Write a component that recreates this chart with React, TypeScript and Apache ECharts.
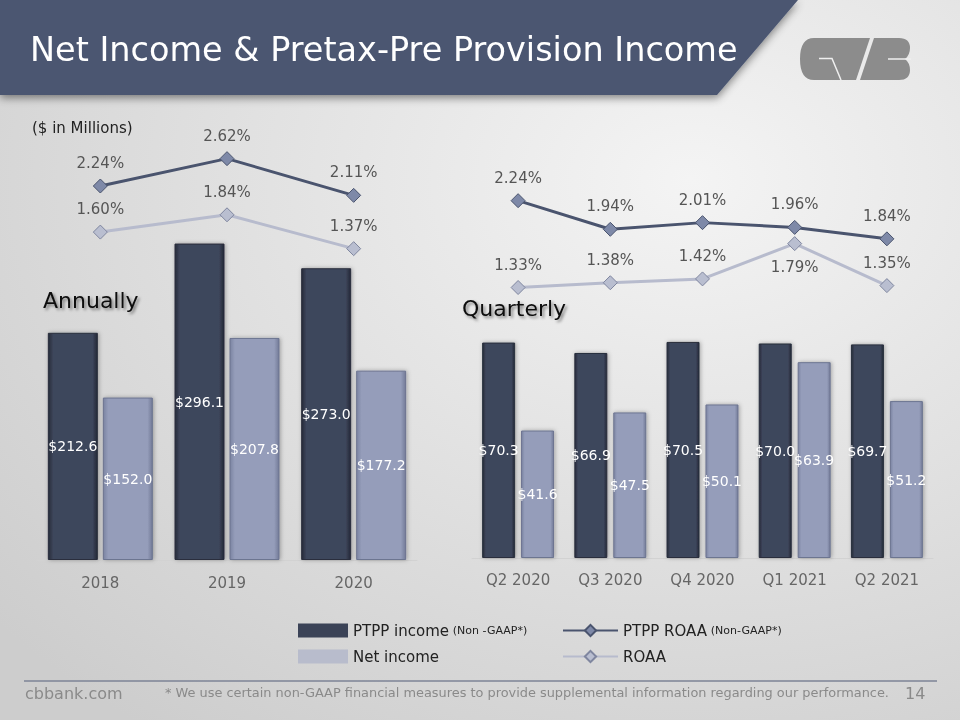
import React, { useEffect, useRef } from "react";
import * as echarts from "echarts";

// ---- data ----
const years = ["2018", "2019", "2020"];
const annualPTPP = [212.6, 296.1, 273.0];
const annualNet = [152.0, 207.8, 177.2];
const annualPTPPROAA = [2.24, 2.62, 2.11];
const annualROAA = [1.6, 1.84, 1.37];

const quarters = ["Q2 2020", "Q3 2020", "Q4 2020", "Q1 2021", "Q2 2021"];
const qPTPP = [70.3, 66.9, 70.5, 70.0, 69.7];
const qNet = [41.6, 47.5, 50.1, 63.9, 51.2];
const qPTPPROAA = [2.24, 1.94, 2.01, 1.96, 1.84];
const qROAA = [1.33, 1.38, 1.42, 1.79, 1.35];
const qROAABelow = ["Q1 2021"];

const seriesNames = ["PTPP income", "Net income", "PTPP ROAA", "ROAA"];
const title = "Net Income & Pretax-Pre Provision Income";
const footnote =
  "* We use certain non-GAAP financial measures to provide supplemental information regarding our performance.";

const FONT = "DejaVu Sans";

const logoPath =
  "M14 0 L70 0 L56 42 L14 42 Q0 42 0 21 Q0 0 14 0 Z M74 0 L99 0 Q110 0 110 10 Q110 17 105 21 Q110 25 110 32 Q110 42 99 42 L60 42 Z";
echarts.graphic.registerShape("logo", echarts.graphic.extendPath(logoPath, {}));

const darkBar = {
  color: {
    type: "linear", x: 0, y: 0, x2: 1, y2: 0,
    colorStops: [
      { offset: 0, color: "#262b39" },
      { offset: 0.1, color: "#3e465c" },
      { offset: 0.9, color: "#3e465c" },
      { offset: 1, color: "#232836" },
    ],
  },
  borderColor: "#2a2f3d",
  borderWidth: 1,
  shadowBlur: 4,
  shadowColor: "rgba(0,0,0,0.3)",
  shadowOffsetX: 1,
};
const lightBar = {
  color: {
    type: "linear", x: 0, y: 0, x2: 1, y2: 0,
    colorStops: [
      { offset: 0, color: "#7b84a2" },
      { offset: 0.1, color: "#959dba" },
      { offset: 0.9, color: "#959dba" },
      { offset: 1, color: "#737b98" },
    ],
  },
  borderColor: "#6c7490",
  borderWidth: 1,
  shadowBlur: 4,
  shadowColor: "rgba(0,0,0,0.3)",
  shadowOffsetX: 1,
};

const barLabel = {
  show: true,
  position: "inside",
  color: "#ffffff",
  fontFamily: FONT,
  fontSize: 14,
  formatter: (p: any) => "$" + Number(p.value).toFixed(1),
};
const pctLabel = {
  show: true,
  position: "top",
  distance: 8,
  color: "#555555",
  fontFamily: FONT,
  fontSize: 15,
  formatter: (p: any) => Number(p.value).toFixed(2) + "%",
};

const darkLine = {
  type: "line",
  symbol: "diamond",
  symbolSize: 14,
  lineStyle: { color: "#4a546e", width: 3 },
  itemStyle: { color: "#7e89a8", borderColor: "#4a546e", borderWidth: 1 },
  label: pctLabel,
  z: 5,
};
const lightLine = {
  type: "line",
  symbol: "diamond",
  symbolSize: 14,
  lineStyle: { color: "#b7bbcd", width: 3 },
  itemStyle: { color: "#b9bed0", borderColor: "#7f869f", borderWidth: 1 },
  label: pctLabel,
  z: 5,
};

export default function App() {
  const ref = useRef<HTMLDivElement>(null);
  useEffect(() => {
    if (!ref.current) return;
    const chart = echarts.init(ref.current, undefined, { renderer: "svg" });
    const xAxisCommon = {
      type: "category",
      axisTick: { show: false },
      axisLine: { lineStyle: { color: "#d2d2d2", width: 1 } },
      axisLabel: { color: "#666666", fontFamily: FONT, fontSize: 15, margin: 15 },
    };
    const hiddenY = {
      type: "value",
      show: false,
      splitLine: { show: false },
    };
    const legendRich = {
      a: { fontFamily: FONT, fontSize: 15, color: "#222222" },
      b: { fontFamily: FONT, fontSize: 11, color: "#222222" },
    };
    chart.setOption({
      animation: false,
      backgroundColor: {
        type: "radial", x: 0.72, y: 0.25, r: 0.95,
        colorStops: [
          { offset: 0, color: "#f4f4f4" },
          { offset: 1, color: "#cdcdcd" },
        ],
      },
      textStyle: { fontFamily: FONT },
      grid: [
        { left: 37, width: 380, top: 140, bottom: 160 },
        { left: 472, width: 461, top: 140, bottom: 162 },
      ],
      xAxis: [
        { ...xAxisCommon, gridIndex: 0, data: years },
        { ...xAxisCommon, gridIndex: 1, data: quarters, axisLabel: { ...xAxisCommon.axisLabel, margin: 14 } },
      ],
      yAxis: [
        { ...hiddenY, gridIndex: 0, min: 0, max: 393 },
        { ...hiddenY, gridIndex: 0, min: -2.954, max: 2.879 },
        { ...hiddenY, gridIndex: 1, min: 0, max: 136.4 },
        { ...hiddenY, gridIndex: 1, min: -1.505, max: 2.876 },
      ],
      legend: [
        {
          data: [
            { name: seriesNames[0], itemStyle: { color: "#3b4357", borderWidth: 0, shadowBlur: 0 } },
            { name: seriesNames[1], itemStyle: { color: "#b8bccc", borderWidth: 0, shadowBlur: 0 } },
          ],
          orient: "vertical",
          left: 293,
          top: 618,
          itemWidth: 50,
          itemHeight: 14,
          itemGap: 11,
          icon: "rect",
          selectedMode: false,
          formatter: (n: string) => (n === seriesNames[0] ? "{a|" + n + "} {b|(Non -GAAP*)}" : "{a|" + n + "}"),
          textStyle: { rich: legendRich },
        },
        {
          data: [seriesNames[2], seriesNames[3]],
          orient: "vertical",
          left: 557,
          top: 618,
          itemWidth: 55,
          itemHeight: 14,
          itemGap: 11,
          selectedMode: false,
          formatter: (n: string) => (n === seriesNames[2] ? "{a|" + n + "} {b|(Non-GAAP*)}" : "{a|" + n + "}"),
          textStyle: { rich: legendRich },
        },
      ],
      series: [
        { name: seriesNames[0], type: "bar", xAxisIndex: 0, yAxisIndex: 0, data: annualPTPP, barWidth: 50, barGap: "10%", itemStyle: darkBar, label: barLabel },
        { name: seriesNames[1], type: "bar", xAxisIndex: 0, yAxisIndex: 0, data: annualNet, barWidth: 50, barGap: "10%", itemStyle: lightBar, label: barLabel },
        { ...darkLine, name: seriesNames[2], xAxisIndex: 0, yAxisIndex: 1, data: annualPTPPROAA },
        { ...lightLine, name: seriesNames[3], xAxisIndex: 0, yAxisIndex: 1, data: annualROAA },
        { name: seriesNames[0], type: "bar", xAxisIndex: 1, yAxisIndex: 2, data: qPTPP, barWidth: 33, barGap: "18%", itemStyle: darkBar, label: barLabel },
        { name: seriesNames[1], type: "bar", xAxisIndex: 1, yAxisIndex: 2, data: qNet, barWidth: 33, barGap: "18%", itemStyle: lightBar, label: barLabel },
        { ...darkLine, name: seriesNames[2], xAxisIndex: 1, yAxisIndex: 3, data: qPTPPROAA },
        {
          ...lightLine,
          name: seriesNames[3],
          xAxisIndex: 1,
          yAxisIndex: 3,
          data: qROAA.map((v, i) =>
            qROAABelow.includes(quarters[i]) ? { value: v, label: { position: "bottom", distance: 8 } } : v
          ),
        },
      ],
      graphic: [
        {
          type: "polygon",
          shape: { points: [[0, 0], [798, 0], [717, 95], [0, 95]] },
          style: { fill: "#4b5671", shadowBlur: 8, shadowColor: "rgba(0,0,0,0.45)", shadowOffsetY: 3 },
          z: 10,
        },
        {
          type: "text",
          left: 30,
          top: 32,
          style: { text: title, fill: "#ffffff", font: "33.5px " + FONT },
          z: 11,
        },
        {
          type: "logo",
          x: 800,
          y: 38,
          scaleX: 1,
          scaleY: 1,
          style: { fill: "#8c8c8c" },
          z: 11,
        },
        {
          type: "polyline",
          shape: { points: [[19, 20.5], [32, 20.5], [41, 42]] },
          x: 800,
          y: 38,
          style: { stroke: "#efefef", lineWidth: 1.5, fill: null },
          z: 12,
        },
        {
          type: "line",
          shape: { x1: 88, y1: 21, x2: 111, y2: 21 },
          x: 800,
          y: 38,
          style: { stroke: "#efefef", lineWidth: 1.5 },
          z: 12,
        },
        {
          type: "text",
          left: 32,
          top: 120,
          style: { text: "($ in Millions)", fill: "#222222", font: "15px " + FONT },
        },
        {
          type: "text",
          left: 43,
          top: 289,
          style: {
            text: "Annually",
            fill: "#111111",
            font: "22px " + FONT,
            textShadowColor: "rgba(0,0,0,0.45)",
            textShadowBlur: 3,
            textShadowOffsetX: 2,
            textShadowOffsetY: 2,
          },
        },
        {
          type: "text",
          left: 462,
          top: 297,
          style: {
            text: "Quarterly",
            fill: "#111111",
            font: "22px " + FONT,
            textShadowColor: "rgba(0,0,0,0.45)",
            textShadowBlur: 3,
            textShadowOffsetX: 2,
            textShadowOffsetY: 2,
          },
        },
        {
          type: "line",
          shape: { x1: 24, y1: 681, x2: 937, y2: 681 },
          style: { stroke: "#7d8396", lineWidth: 1.5 },
        },
        {
          type: "text",
          left: 25,
          top: 685,
          style: { text: "cbbank.com", fill: "#8a8a8a", font: "16px " + FONT },
        },
        {
          type: "text",
          left: 165,
          top: 686,
          style: { text: footnote, fill: "#8a8a8a", font: "12.9px " + FONT },
        },
        {
          type: "text",
          left: 905,
          top: 685,
          style: { text: "14", fill: "#8a8a8a", font: "16px " + FONT },
        },
      ],
    });
    return () => chart.dispose();
  }, []);
  return (
    <div
      ref={ref}
      style={{ position: "fixed", left: 0, top: 0, width: 960, height: 720 }}
    />
  );
}
